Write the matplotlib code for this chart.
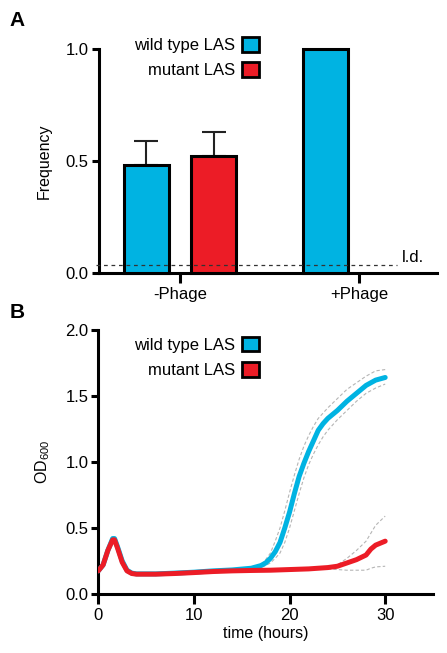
import numpy as np
import matplotlib
matplotlib.use("Agg")
import matplotlib.pyplot as plt
from matplotlib.patches import Patch

plt.rcParams['font.family'] = ['Liberation Sans', 'DejaVu Sans']

BLUE = '#00b3e2'
RED = '#ec1c26'

# panel A data
groups = ['-Phage', '+Phage']
wt_freq = [0.482, 1.0]
wt_err = [0.107, 0.0]
mut_freq = [0.522, 0.0]
mut_err = [0.108, 0.0]
limit_detection = 0.035

# panel B data
t_wt = [0, 0.5, 1.0, 1.5, 1.7, 2.0, 2.5, 3.0, 3.5, 4, 6, 8, 10, 12, 14, 16, 16.5, 17, 17.5, 18,
        18.5, 19, 19.5, 20, 20.5, 21, 21.5, 22, 22.5, 23, 23.5, 24, 25, 26, 27, 28, 29, 30]
od_wt = [0.175, 0.22, 0.33, 0.42, 0.42, 0.36, 0.25, 0.18, 0.158, 0.152, 0.152, 0.158, 0.165,
         0.175, 0.182, 0.195, 0.205, 0.215, 0.235, 0.27, 0.32, 0.39, 0.50, 0.62, 0.76, 0.89,
         0.99, 1.08, 1.16, 1.24, 1.29, 1.33, 1.39, 1.46, 1.52, 1.58, 1.62, 1.64]

t_wt_ci = [16, 17, 17.5, 18, 18.5, 19, 19.5, 20, 20.5, 21, 21.5, 22, 22.5, 23, 23.5, 24,
           25, 26, 27, 28, 29, 30]
wt_upper = [0.20, 0.22, 0.26, 0.31, 0.40, 0.50, 0.63, 0.77, 0.90, 1.02, 1.12, 1.20, 1.27,
            1.33, 1.37, 1.41, 1.48, 1.55, 1.60, 1.65, 1.69, 1.70]
wt_lower = [0.19, 0.20, 0.215, 0.235, 0.27, 0.31, 0.39, 0.50, 0.63, 0.76, 0.88, 0.98, 1.06,
            1.13, 1.19, 1.24, 1.32, 1.39, 1.46, 1.52, 1.56, 1.59]

t_mut = [0, 0.5, 1.0, 1.5, 1.7, 2.0, 2.5, 3.0, 3.5, 4, 6, 8, 10, 12, 14, 16, 18, 20, 22, 24,
         25, 26, 27, 28, 28.5, 29, 30]
od_mut = [0.175, 0.22, 0.33, 0.41, 0.41, 0.35, 0.24, 0.175, 0.155, 0.15, 0.15, 0.155, 0.162,
          0.17, 0.175, 0.178, 0.18, 0.185, 0.19, 0.20, 0.21, 0.235, 0.26, 0.295, 0.34, 0.37, 0.40]

t_mut_ci = [24, 25, 26, 27, 28, 28.5, 29, 30]
mut_upper = [0.20, 0.22, 0.27, 0.33, 0.40, 0.46, 0.52, 0.59]
mut_lower = [0.19, 0.185, 0.18, 0.18, 0.18, 0.195, 0.205, 0.21]

fig = plt.figure(figsize=(4.47, 6.53), dpi=100)
axA = fig.add_axes([0.2204, 0.5819, 0.7573, 0.3431])
axB = fig.add_axes([0.2199, 0.0904, 0.7488, 0.4043])

for ax in (axA, axB):
    ax.spines['top'].set_visible(False)
    ax.spines['right'].set_visible(False)
    ax.spines['left'].set_linewidth(2.2)
    ax.spines['bottom'].set_linewidth(2.2)
    ax.tick_params(width=2.2, length=5, labelsize=12, pad=2)

# ---- panel A
x = np.arange(len(groups))
w = 0.25
off = 0.189
bars_wt = axA.bar(x - off, wt_freq, w, color=BLUE, edgecolor='black', linewidth=2.2,
                  clip_on=False, zorder=3)
bars_mut = axA.bar(x + off, mut_freq, w, color=RED, edgecolor='black', linewidth=2.2,
                   clip_on=False, zorder=3)
for i in range(len(groups)):
    if wt_err[i] > 0:
        axA.errorbar(x[i] - off, wt_freq[i], yerr=[[0], [wt_err[i]]], color='#222222',
                     capsize=8.5, elinewidth=1.5, capthick=1.5, zorder=2)
    if mut_err[i] > 0:
        axA.errorbar(x[i] + off, mut_freq[i], yerr=[[0], [mut_err[i]]], color='#222222',
                     capsize=8.5, elinewidth=1.5, capthick=1.5, zorder=2)
bars_mut[1].set_visible(False)

axA.plot([-0.47, 1.212], [limit_detection, limit_detection], ls=(0, (3, 3)), color='#333333',
         lw=0.9, zorder=4, clip_on=False)
axA.text(1.24, limit_detection + 0.003, 'l.d.', fontsize=12, va='bottom', ha='left')

axA.set_xlim(-0.455, 1.436)
axA.set_ylim(0, 1.0)
axA.set_yticks([0, 0.5, 1.0])
axA.set_yticklabels(['0.0', '0.5', '1.0'])
axA.set_xticks(x)
axA.set_xticklabels(groups)
axA.tick_params(axis='x', length=7, pad=3)
axA.set_ylabel('Frequency', fontsize=11.5, labelpad=10)

handles = [Patch(facecolor=BLUE, edgecolor='black', linewidth=2),
           Patch(facecolor=RED, edgecolor='black', linewidth=2)]
labels = ['wild type LAS', 'mutant LAS']
axA.legend(handles, labels, loc='upper right', bbox_to_anchor=(0.474, 1.055), frameon=False,
           markerfirst=False, fontsize=12, handlelength=1.0, handleheight=1.0,
           handletextpad=0.45, labelspacing=0.55, borderpad=0, borderaxespad=0)

# ---- panel B
for tt, yy in [(t_wt_ci, wt_upper), (t_wt_ci, wt_lower), (t_mut_ci, mut_upper), (t_mut_ci, mut_lower)]:
    axB.plot(tt, yy, ls=(0, (3, 2)), color='#b5b5b5', lw=0.8, zorder=2)
axB.plot(t_wt, od_wt, color=BLUE, lw=3.6, solid_capstyle='round', zorder=3)
axB.plot(t_mut, od_mut, color=RED, lw=3.6, solid_capstyle='round', zorder=4)

axB.set_xlim(0, 35)
axB.set_ylim(0, 2.0)
axB.set_xticks([0, 10, 20, 30])
axB.set_yticks([0, 0.5, 1.0, 1.5, 2.0])
axB.set_yticklabels(['0.0', '0.5', '1.0', '1.5', '2.0'])
axB.tick_params(axis='x', length=7, pad=3)
axB.set_xlabel('time (hours)', fontsize=11.5, labelpad=2)
axB.set_ylabel(r'OD$_{\mathregular{600}}$', fontsize=11.5, labelpad=10)

axB.legend(handles, labels, loc='upper right', bbox_to_anchor=(0.480, 0.975), frameon=False,
           markerfirst=False, fontsize=12, handlelength=1.0, handleheight=1.0,
           handletextpad=0.45, labelspacing=0.55, borderpad=0, borderaxespad=0)

fig.text(0.022, 0.960, 'A', fontsize=15, fontweight='bold', va='baseline')
fig.text(0.022, 0.513, 'B', fontsize=15, fontweight='bold', va='baseline')

fig.savefig('out.png', dpi=100)
